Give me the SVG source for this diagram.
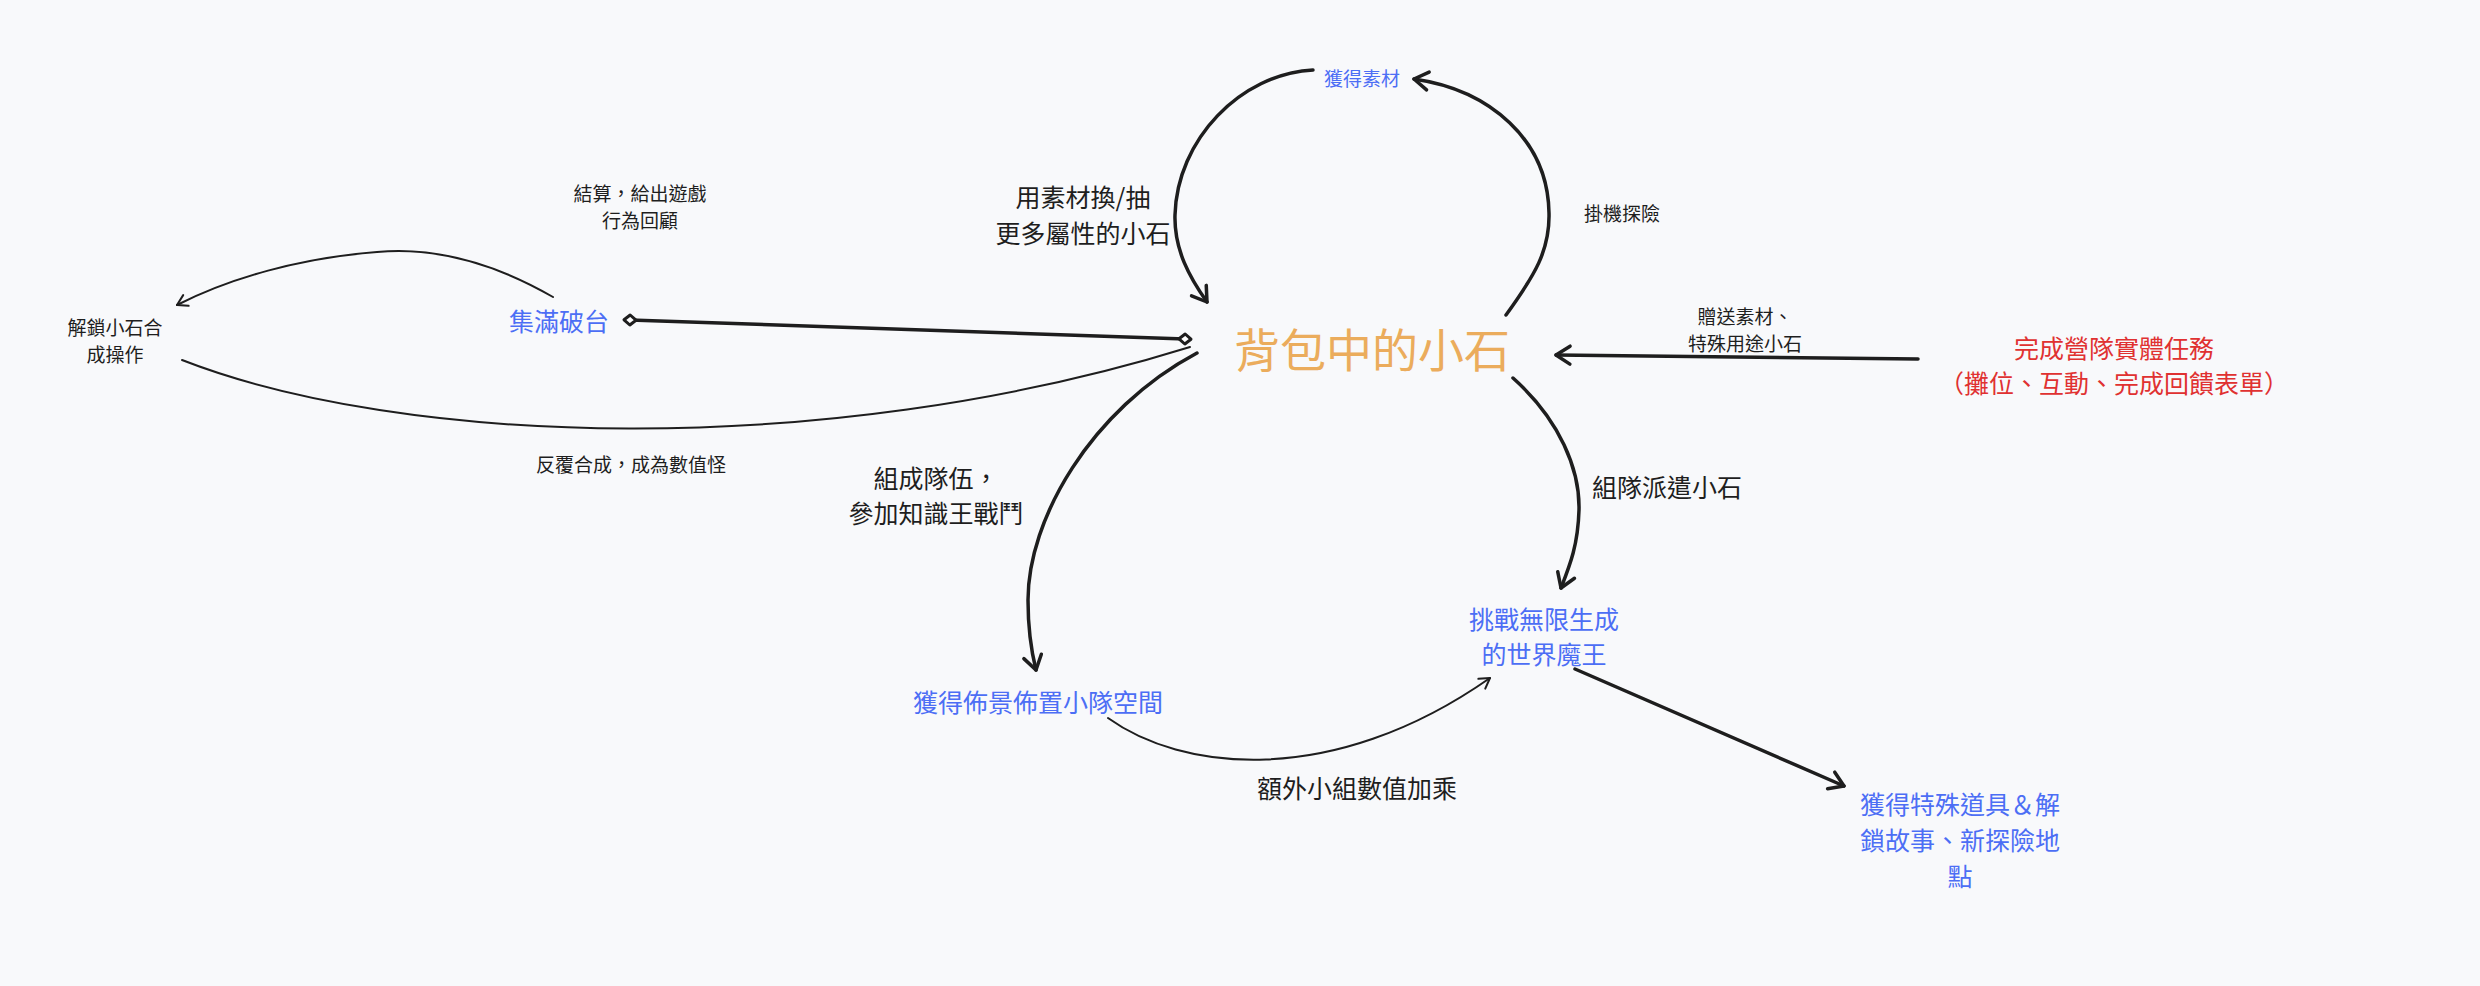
<svg xmlns="http://www.w3.org/2000/svg" width="2480" height="986" viewBox="0 0 2480 986">
<defs>
<style>
text{font-family:"Noto Sans CJK TC","Noto Sans CJK SC",sans-serif;dominant-baseline:central;text-anchor:middle;}
.dark{fill:#1e1e1e;}
.blue{fill:#4c6ef5;}
.red{fill:#e03131;}
.orange{fill:#ebac5c;}
.s19{font-size:19px;}
.s25{font-size:25px;}
.thick{fill:none;stroke:#1e1e1e;stroke-width:3.5;stroke-linecap:round;stroke-linejoin:round;}
.thin{fill:none;stroke:#1e1e1e;stroke-width:2;stroke-linecap:round;stroke-linejoin:round;}
</style>
<marker id="arrBig" markerUnits="userSpaceOnUse" markerWidth="30" markerHeight="30" refX="0" refY="0" viewBox="-20 -15 30 30" orient="auto" overflow="visible">
<path d="M-14,-9 L0,0 L-14,9" fill="none" stroke="#1e1e1e" stroke-width="3.5" stroke-linecap="round" stroke-linejoin="round"/>
</marker>
<marker id="arrSmall" markerUnits="userSpaceOnUse" markerWidth="24" markerHeight="24" refX="0" refY="0" viewBox="-16 -12 24 24" orient="auto" overflow="visible">
<path d="M-10,-6 L0,0 L-10,6" fill="none" stroke="#1e1e1e" stroke-width="2" stroke-linecap="round" stroke-linejoin="round"/>
</marker>
<marker id="diamond" markerUnits="userSpaceOnUse" markerWidth="20" markerHeight="20" refX="0" refY="0" viewBox="-10 -10 20 20" orient="auto" overflow="visible">
<path d="M-6,0 L0,-5 L6,0 L0,5 Z" fill="#ffffff" stroke="#1e1e1e" stroke-width="3" stroke-linejoin="round"/>
</marker>
</defs>
<rect x="0" y="0" width="2480" height="986" fill="#f8f9fb"/>

<g id="connectors">
<path class="thick" d="M1313,70 C1240,74 1177,140 1175,215 C1174,250 1190,278 1207,302" marker-end="url(#arrBig)"/>
<path class="thick" d="M1506,315 C1535,275 1550,250 1549,213 C1548,140 1490,90 1414,79" marker-end="url(#arrBig)"/>
<path class="thick" d="M630,320 L1185,339" marker-start="url(#diamond)" marker-end="url(#diamond)"/>
<path class="thin" d="M553,297 C480,255 420,248 377,252 C300,258 230,278 177,305" marker-end="url(#arrSmall)"/>
<path class="thin" d="M182,360 C400,445 820,462 1190,347"/>
<path class="thick" d="M1197,353 C1090,410 1028,520 1028,600 C1028,630 1031,650 1036,670" marker-end="url(#arrBig)"/>
<path class="thin" d="M1108,718 C1180,770 1330,790 1490,678" marker-end="url(#arrSmall)"/>
<path class="thick" d="M1513,378 C1560,420 1580,470 1579,510 C1578,545 1570,565 1561,588" marker-end="url(#arrBig)"/>
<path class="thick" d="M1575,669 L1844,786" marker-end="url(#arrBig)"/>
<path class="thick" d="M1918,359 L1556,355" marker-end="url(#arrBig)"/>
<g id="edge-labels">
<text class="dark s25" x="1083" y="196">用素材換/抽</text>
<text class="dark s25" x="1083" y="232">更多屬性的小石</text>
<text class="dark s19" x="1622" y="212">掛機探險</text>
<text class="dark s19" x="640" y="192">結算，給出遊戲</text>
<text class="dark s19" x="640" y="219">行為回顧</text>
<text class="dark s19" x="631" y="463">反覆合成，成為數值怪</text>
<text class="dark s19" x="1745" y="315">贈送素材、</text>
<text class="dark s19" x="1745" y="342">特殊用途小石</text>
<text class="dark s25" x="1667" y="486">組隊派遣小石</text>
<text class="dark s25" x="936" y="477">組成隊伍，</text>
<text class="dark s25" x="936" y="512">參加知識王戰鬥</text>
<text class="dark s25" x="1357" y="787">額外小組數值加乘</text>
</g>
</g>

<g id="node-backpack">
<text class="orange" style="font-size:46px" x="1372" y="347">背包中的小石</text>
</g>
<g id="node-materials">
<text class="blue s19" x="1362" y="77">獲得素材</text>
</g>
<g id="node-full-clear">
<text class="blue s25" x="559" y="320">集滿破台</text>
</g>
<g id="node-unlock-merge">
<text class="dark s19" x="115" y="326">解鎖小石合</text>
<text class="dark s19" x="115" y="353">成操作</text>
</g>
<g id="node-camp-task">
<text class="red s25" x="2114" y="347">完成營隊實體任務</text>
<text class="red s25" x="2114" y="382">（攤位、互動、完成回饋表單）</text>
</g>
<g id="node-world-boss">
<text class="blue s25" x="1544" y="618">挑戰無限生成</text>
<text class="blue s25" x="1544" y="653">的世界魔王</text>
</g>
<g id="node-team-space">
<text class="blue s25" x="1038" y="701">獲得佈景佈置小隊空間</text>
</g>
<g id="node-special-items">
<text class="blue s25" x="1960" y="803">獲得特殊道具＆解</text>
<text class="blue s25" x="1960" y="839">鎖故事、新探險地</text>
<text class="blue s25" x="1960" y="875">點</text>
</g>
</svg>
